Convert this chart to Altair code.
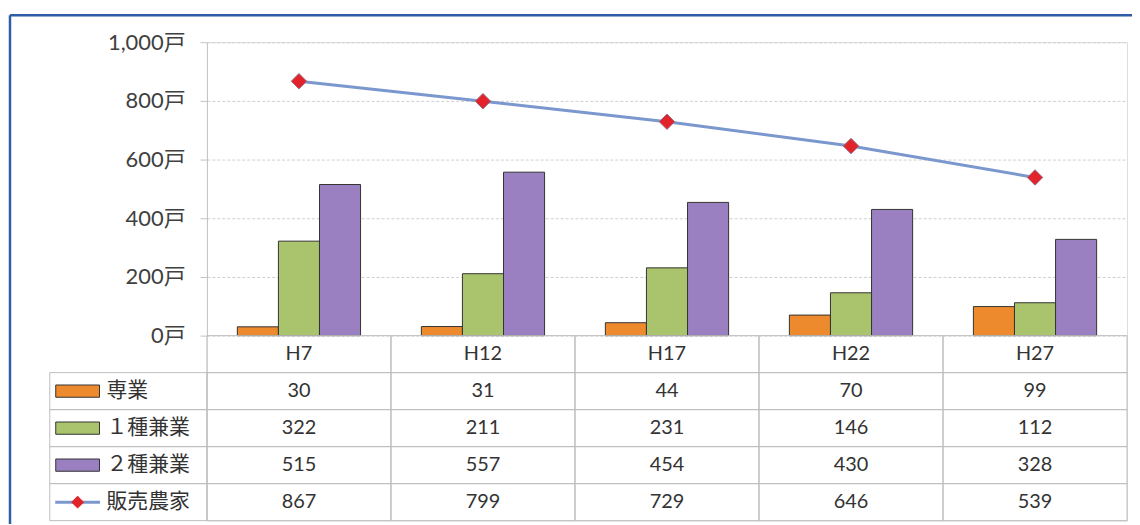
import altair as alt
import pandas as pd

years = ["H7", "H12", "H17", "H22", "H27"]
series_bar = ["専業", "１種兼業", "２種兼業"]
series_line = "販売農家"
senngyou = [30, 31, 44, 70, 99]
kengyou1 = [322, 211, 231, 146, 112]
kengyou2 = [515, 557, 454, 430, 328]
hanbai = [867, 799, 729, 646, 539]
y_ticks = [0, 200, 400, 600, 800, 1000]

bar_colors = ["#EE8A2E", "#A9C46C", "#9A80C0"]
line_color = "#7A97CE"
marker_color = "#E2232A"
FONT = "Lato, 'Noto Sans CJK JP', sans-serif"

bar_vals = [senngyou, kengyou1, kengyou2]
bars_df = pd.DataFrame(
    [{"year": y, "series": s, "value": v[i]}
     for s, v in zip(series_bar, bar_vals) for i, y in enumerate(years)]
)
line_df = pd.DataFrame({"year": years, "value": hanbai})

row_keys = ["header"] + series_bar + [series_line]
all_vals = dict(zip(series_bar, bar_vals))
all_vals[series_line] = hanbai
table_rows = [{"year": y, "row": "header", "text": y} for y in years]
for s in series_bar + [series_line]:
    for i, y in enumerate(years):
        table_rows.append({"year": y, "row": s, "text": str(all_vals[s][i])})
table_df = pd.DataFrame(table_rows)
legend_df = pd.DataFrame({"row": series_bar + [series_line]})
swatch_df = pd.DataFrame({"row": series_bar})

W, H = 925, 481
PLOT_H = 295

x_scale = alt.Scale(type="band", domain=years, paddingInner=0, paddingOuter=0)
x_enc = alt.X("year:N", scale=x_scale, axis=None, sort=years)


def y_val(axis=None):
    sc = alt.Scale(domain=[0, 1000], range=[PLOT_H, 0], nice=False, zero=True)
    if axis is None:
        return alt.Y("value:Q", scale=sc, axis=None)
    return alt.Y("value:Q", scale=sc, axis=axis)


def y_row():
    sc = alt.Scale(type="band", domain=row_keys, range=[PLOT_H, H], paddingInner=0, paddingOuter=0)
    return alt.Y("row:N", scale=sc, axis=None, sort=row_keys)


color_scale = alt.Scale(domain=series_bar, range=bar_colors)

y_axis = alt.Axis(orient="left", values=y_ticks,
                  labelExpr="format(datum.value, ',') + '戸'",
                  title=None, ticks=True, tickSize=7, tickColor="#c4c4c4",
                  labelFontSize=22, labelColor="#404040",
                  labelFont=FONT, labelPadding=15, domainColor="#c4c4c4",
                  gridColor="#cfcfcf", gridDash=[3, 2], grid=True)

bars = alt.Chart(bars_df).mark_bar(stroke="#333333", strokeWidth=1).encode(
    x=x_enc,
    xOffset=alt.XOffset("series:N", sort=series_bar,
                        scale=alt.Scale(domain=series_bar, paddingOuter=0.74, paddingInner=0)),
    y=y_val(y_axis),
    color=alt.Color("series:N", scale=color_scale, legend=None),
)

line = alt.Chart(line_df).mark_line(color=line_color, strokeWidth=3).encode(
    x=x_enc, y=y_val()
)
points = alt.Chart(line_df).mark_point(
    shape="diamond", filled=True, fill=marker_color, size=240, opacity=1,
    stroke="#9A6A80", strokeWidth=1
).encode(x=x_enc, y=y_val())

cells = alt.Chart(table_df).mark_rect(
    fillOpacity=0, stroke="#bdbdbd", strokeWidth=1
).encode(x=x_enc, y=y_row())

legend_cells = alt.Chart(legend_df).mark_rect(
    fillOpacity=0, stroke="#bdbdbd", strokeWidth=1
).encode(x=alt.value(-158), x2=alt.value(0), y=y_row())

table_text = alt.Chart(table_df).mark_text(
    fontSize=20, color="#333333", font=FONT
).encode(x=x_enc, y=y_row(), text="text:N")

legend_text = alt.Chart(legend_df).mark_text(
    fontSize=21, color="#333333", font=FONT, align="left"
).encode(x=alt.value(-101), y=y_row(), text="row:N")

swatches = alt.Chart(swatch_df).mark_point(
    shape="M-1,-0.28L1,-0.28L1,0.28L-1,0.28Z", filled=True, size=1936,
    stroke="#333333", strokeWidth=1, opacity=1
).encode(x=alt.value(-130), y=y_row(),
         fill=alt.Color("row:N", scale=color_scale, legend=None))

line_sw_df = pd.DataFrame({"row": [series_line]})
line_swatch = alt.Chart(line_sw_df).mark_point(
    shape="M-1,0L1,0", size=2025, stroke=line_color, strokeWidth=3, opacity=1
).encode(x=alt.value(-130), y=y_row())
diamond_swatch = alt.Chart(line_sw_df).mark_point(
    shape="diamond", filled=True, fill=marker_color, size=170, opacity=1
).encode(x=alt.value(-130), y=y_row())

frame_df = pd.DataFrame({"k": [0]})
frame_top = alt.Chart(frame_df).mark_rule(color="#2F5DA8", strokeWidth=2.5).encode(
    x=alt.value(-198), x2=alt.value(935), y=alt.value(-27)
)
frame_left = alt.Chart(frame_df).mark_rule(color="#2F5DA8", strokeWidth=2.5).encode(
    x=alt.value(-198), y=alt.value(-27), y2=alt.value(500)
)

chart = alt.layer(
    bars, line, points, cells, legend_cells, table_text, legend_text,
    swatches, line_swatch, diamond_swatch, frame_top, frame_left
).resolve_scale(y="independent").resolve_axis(y="independent").properties(
    width=W, height=H,
    autosize=alt.AutoSizeParams(type="none"),
    padding={"left": 200, "top": 33, "right": 5, "bottom": 2},
).configure_view(stroke=None).configure(background="white")

chart.save("out.html", embed_options={"renderer": "svg", "actions": False})
